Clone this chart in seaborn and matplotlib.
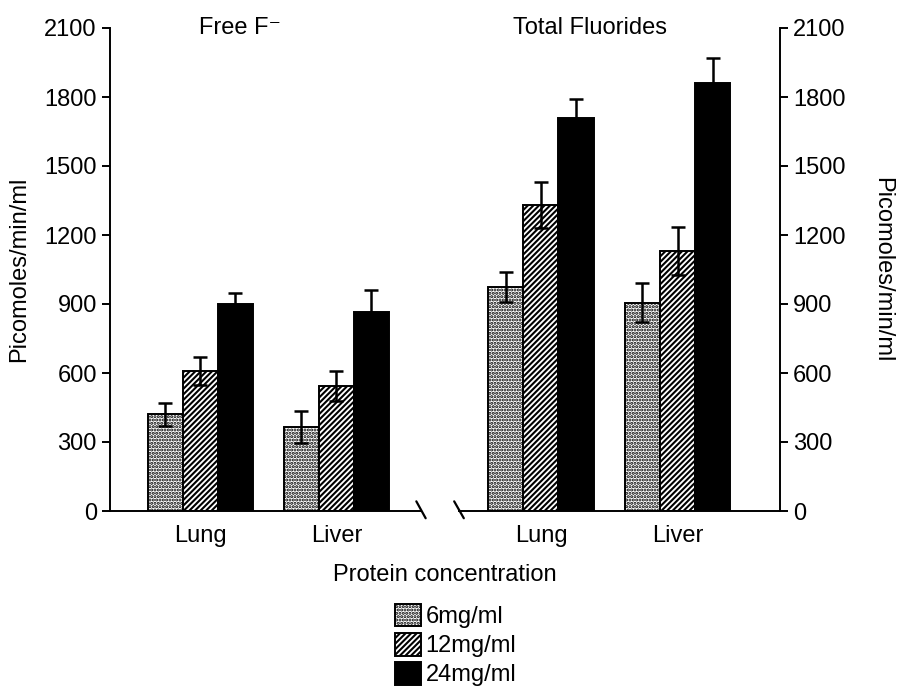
import pandas as pd
import matplotlib.pyplot as plt
import seaborn as sns
from matplotlib.patches import Patch

# ---- data (picomoles/min/ml) ----
tissues = ['Lung', 'Liver']
concs = ['6mg/ml', '12mg/ml', '24mg/ml']

free_6 = [420, 365]
free_12 = [610, 545]
free_24 = [900, 865]
free_6_err = [50, 70]
free_12_err = [60, 65]
free_24_err = [50, 95]

total_6 = [975, 905]
total_12 = [1330, 1130]
total_24 = [1710, 1860]
total_6_err = [65, 85]
total_12_err = [100, 105]
total_24_err = [80, 110]

yticks = [0, 300, 600, 900, 1200, 1500, 1800, 2100]


def make_df(v6, v12, v24):
    rows = []
    for conc, vals in zip(concs, [v6, v12, v24]):
        for t, v in zip(tissues, vals):
            rows.append({'tissue': t, 'conc': conc, 'value': v})
    return pd.DataFrame(rows)


df_free = make_df(free_6, free_12, free_24)
df_total = make_df(total_6, total_12, total_24)
err_free = [free_6_err, free_12_err, free_24_err]
err_total = [total_6_err, total_12_err, total_24_err]

sns.set_theme(style='ticks')
plt.rcParams['font.family'] = ['Liberation Sans', 'DejaVu Sans']
plt.rcParams['hatch.linewidth'] = 1.5
plt.rcParams['text.color'] = 'black'
plt.rcParams['xtick.color'] = 'black'
plt.rcParams['ytick.color'] = 'black'
plt.rcParams['axes.labelcolor'] = 'black'

FS = 17
W, H = 902, 691
fig = plt.figure(figsize=(W / 100, H / 100), dpi=100)
y0 = 1 - 511 / H
yh = (511 - 28) / H
ax1 = fig.add_axes([110 / W, y0, (421 - 110) / W, yh])
ax2 = fig.add_axes([459 / W, y0, (780 - 459) / W, yh])

palette = {'6mg/ml': 'white', '12mg/ml': 'white', '24mg/ml': 'black'}
hatches = ['.....', '//////', '']


def draw(ax, df, errs):
    sns.barplot(data=df, x='tissue', y='value', hue='conc', hue_order=concs,
                order=tissues, palette=palette, width=0.77, errorbar=None,
                edgecolor='black', linewidth=1.4, legend=False, ax=ax)
    for cont, hatch, err in zip(ax.containers, hatches, errs):
        xs, hs = [], []
        for bar in cont:
            bar.set_hatch(hatch)
            xs.append(bar.get_x() + bar.get_width() / 2)
            hs.append(bar.get_height())
        ax.errorbar(xs, hs, yerr=err, fmt='none', ecolor='black',
                    elinewidth=1.8, capsize=5, capthick=1.8, zorder=5)
    ax.set_ylim(0, 2100)
    ax.set_yticks(yticks)
    ax.set_xlabel('')
    ax.set_ylabel('')
    ax.tick_params(axis='x', length=0, pad=10, labelsize=FS)
    ax.tick_params(axis='y', length=6, width=1.4, labelsize=FS)
    for s in ax.spines.values():
        s.set_linewidth(1.4)
        s.set_color('black')


draw(ax1, df_free, err_free)
draw(ax2, df_total, err_total)

ax1.set_xlim(-0.66, 1.62)
ax2.set_xlim(-0.6, 1.75)
sns.despine(ax=ax1)
sns.despine(ax=ax2, left=True, right=False)
ax2.yaxis.tick_right()
ax2.yaxis.set_label_position('right')

ax1.set_ylabel('Picomoles/min/ml', fontsize=FS, labelpad=10)
ax2.set_ylabel('Picomoles/min/ml', fontsize=FS, rotation=270, labelpad=34)

# axis break marks
ax1.plot([0.985, 1.015], [0.02, -0.015], transform=ax1.transAxes,
         color='black', lw=1.6, clip_on=False)
ax2.plot([-0.015, 0.015], [0.02, -0.015], transform=ax2.transAxes,
         color='black', lw=1.6, clip_on=False)

fig.text(240 / W, 1 - 28 / H, 'Free F\u207b', ha='center', va='center', fontsize=FS)
fig.text(590 / W, 1 - 28 / H, 'Total Fluorides', ha='center', va='center', fontsize=FS)
fig.text(445 / W, 1 - 575 / H, 'Protein concentration', ha='center', va='center', fontsize=FS)

handles = [Patch(facecolor=palette[c], edgecolor='black', hatch=h, linewidth=1.4)
           for c, h in zip(concs, hatches)]
fig.legend(handles, concs, loc='upper left', bbox_to_anchor=(383 / W, 1 - 592 / H),
           frameon=False, fontsize=FS, handlelength=1.1, handleheight=1.1,
           handletextpad=0.2, labelspacing=0.2, borderpad=0)

fig.savefig('out.png', dpi=100)
